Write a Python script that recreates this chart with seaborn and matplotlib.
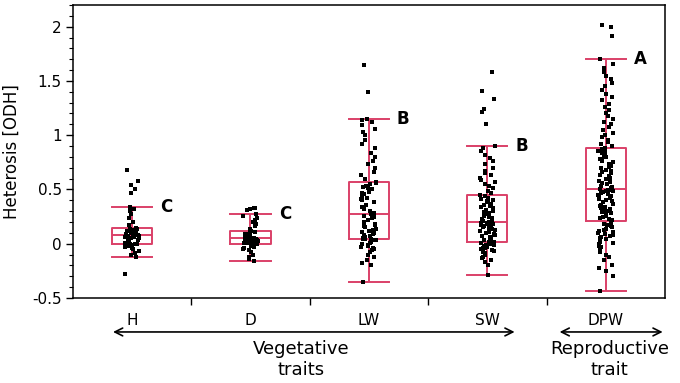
# -*- coding: utf-8 -*-
"""
Heterosis (ODH) per trait - box plot with individual points
"""

import numpy as np
import pandas as pd
import matplotlib
matplotlib.use('Agg')
import matplotlib.pyplot as plt
from matplotlib.ticker import MultipleLocator, FuncFormatter
import seaborn as sns

plt.rcParams['font.family'] = ['DejaVu Sans']
plt.rcParams['axes.unicode_minus'] = False

# data
traits = ['H', 'D', 'LW', 'SW', 'DPW']
letters = ['C', 'C', 'B', 'B', 'A']

odh_h = [-0.277, -0.12, -0.10, -0.09, -0.07, -0.05, -0.04, -0.03, -0.02, -0.01,
         0.0, 0.0, 0.0, 0.01, 0.02, 0.03, 0.04, 0.05, 0.055, 0.06,
         0.065, 0.07, 0.075, 0.08, 0.083, 0.09, 0.095, 0.10, 0.105, 0.11,
         0.115, 0.12, 0.125, 0.13, 0.135, 0.14, 0.145, 0.17, 0.20, 0.24,
         0.27, 0.30, 0.32, 0.335, 0.47, 0.50, 0.545, 0.575, 0.68]

odh_d = [-0.157, -0.14, -0.12, -0.10, -0.08, -0.06, -0.05, -0.04, -0.03, -0.02,
         -0.01, -0.005, 0.0, 0.005, 0.01, 0.015, 0.02, 0.025, 0.03, 0.035,
         0.04, 0.042, 0.045, 0.048, 0.05, 0.055, 0.06, 0.065, 0.07, 0.075,
         0.08, 0.085, 0.09, 0.10, 0.105, 0.11, 0.12, 0.14, 0.16, 0.18,
         0.20, 0.22, 0.24, 0.26, 0.27, 0.31, 0.32, 0.325, 0.33]

odh_lw = [-0.355, -0.20, -0.18, -0.15, -0.12, -0.10, -0.08, -0.06, -0.05, -0.04,
          -0.03, -0.02, -0.01, 0.0, 0.01, 0.02, 0.03, 0.035, 0.04, 0.042,
          0.045,
          0.05, 0.06, 0.07, 0.08, 0.09, 0.10, 0.11, 0.12, 0.13, 0.14,
          0.15, 0.16, 0.17, 0.18, 0.20, 0.22, 0.24, 0.25, 0.26,
          0.27,
          0.28, 0.30, 0.32, 0.34, 0.36, 0.38, 0.40, 0.41, 0.42, 0.44,
          0.46, 0.47, 0.48, 0.50, 0.51, 0.52, 0.53, 0.55, 0.56,
          0.565,
          0.60, 0.63, 0.66, 0.70, 0.73, 0.76, 0.80, 0.84, 0.88, 0.92,
          0.96, 1.00, 1.03, 1.06, 1.09, 1.12, 1.14, 1.15,
          1.395, 1.65]

odh_sw = [-0.285, -0.20, -0.17, -0.15, -0.13, -0.12, -0.10, -0.09, -0.08, -0.07,
          -0.06, -0.05, -0.04, -0.035, -0.03, -0.025, -0.02, -0.015, -0.01, -0.005,
          0.0, 0.005, 0.01, 0.012, 0.015,
          0.02,
          0.03, 0.04, 0.05, 0.06, 0.07, 0.08, 0.09, 0.10, 0.11, 0.12,
          0.13, 0.14, 0.145, 0.15, 0.155, 0.16, 0.165, 0.17, 0.175, 0.18,
          0.185, 0.19, 0.192, 0.195,
          0.197,
          0.20, 0.21, 0.22, 0.23, 0.24, 0.25, 0.26, 0.27, 0.28, 0.29,
          0.30, 0.31, 0.32, 0.33, 0.34, 0.35, 0.36, 0.37, 0.38, 0.39,
          0.40, 0.41, 0.42, 0.44,
          0.45,
          0.47, 0.49, 0.51, 0.53, 0.55, 0.57, 0.59, 0.61, 0.63, 0.65,
          0.67, 0.70, 0.73, 0.76, 0.79, 0.82, 0.85, 0.88, 0.905,
          1.107, 1.21, 1.24, 1.33, 1.41, 1.58]

odh_dpw = [-0.44, -0.30, -0.25, -0.22, -0.20, -0.15, -0.12, -0.10, -0.08, -0.06,
           -0.05, -0.03, -0.02, 0.0, 0.01, 0.02, 0.04, 0.05, 0.06, 0.07,
           0.08, 0.09, 0.10, 0.11, 0.12, 0.13, 0.14, 0.15, 0.16, 0.17,
           0.18, 0.20,
           0.21,
           0.22, 0.23, 0.24, 0.25, 0.26, 0.27, 0.28, 0.29, 0.30, 0.31,
           0.32, 0.33, 0.34, 0.35, 0.36, 0.37, 0.38, 0.39, 0.40, 0.41,
           0.42, 0.43, 0.44, 0.45, 0.46, 0.47, 0.48, 0.485, 0.49, 0.495,
           0.498,
           0.50,
           0.51, 0.52, 0.53, 0.55, 0.56, 0.57, 0.58, 0.60, 0.61, 0.62,
           0.63, 0.65, 0.66, 0.67, 0.68, 0.70, 0.71, 0.72, 0.73, 0.75,
           0.76, 0.77, 0.78, 0.80, 0.81, 0.82, 0.83, 0.84, 0.85, 0.86,
           0.87,
           0.88,
           0.90, 0.92, 0.94, 0.96, 0.98, 1.00, 1.02, 1.05, 1.08, 1.10,
           1.12, 1.15, 1.18, 1.20, 1.23, 1.26, 1.29, 1.32, 1.35, 1.38,
           1.42, 1.45, 1.48, 1.52, 1.55, 1.58, 1.62, 1.66, 1.70,
           1.91, 2.00, 2.02]

series = [odh_h, odh_d, odh_lw, odh_sw, odh_dpw]
df = pd.concat([pd.DataFrame({'trait': t, 'odh': v}) for t, v in zip(traits, series)],
               ignore_index=True)

PINK = '#DA4068'

fig = plt.figure(figsize=(6.8, 3.83), dpi=100)
ax = fig.add_axes([0.107, 0.222, 0.871, 0.765])

sns.boxplot(data=df, x='trait', y='odh', order=traits, width=0.34, capwidths=0.34,
            fill=False, color=PINK, linewidth=1.4, showfliers=False, whis=1.5, ax=ax)
np.random.seed(7)
sns.stripplot(data=df, x='trait', y='odh', order=traits, color='black', marker='s',
              size=3.3, linewidth=0, jitter=0.065, ax=ax, zorder=3)

# significance letters next to the upper whisker
for i, v in enumerate(series):
    q1, q3 = np.percentile(v, [25, 75])
    upper = max(x for x in v if x <= q3 + 1.5 * (q3 - q1))
    ax.text(i + 0.29, upper, letters[i], fontsize=12, fontweight='bold',
            ha='center', va='center')

ax.set_xlim(-0.5, 4.5)
ax.set_ylim(-0.5, 2.2)
ax.yaxis.set_major_locator(MultipleLocator(0.5))
ax.yaxis.set_minor_locator(MultipleLocator(0.1))
ax.yaxis.set_major_formatter(FuncFormatter(lambda v, p: f'{v:g}'))
ax.tick_params(axis='y', which='major', length=5, width=1, labelsize=11, pad=3)
ax.tick_params(axis='y', which='minor', length=3, width=0.8)

ax.set_xticks(range(len(traits)))
ax.set_xticklabels(traits, fontsize=11)
ax.set_xticks([0.5, 1.5, 2.5, 3.5], minor=True)
ax.tick_params(axis='x', which='major', length=0, pad=11)
ax.tick_params(axis='x', which='minor', length=5, width=1)

ax.set_xlabel('')
ax.set_ylabel('Heterosis [ODH]', fontsize=12)
ax.yaxis.set_label_coords(-0.088, 0.5)
for s in ax.spines.values():
    s.set_linewidth(1.1)

# group arrows below the axis
arrow = dict(arrowstyle='<->', lw=1.2, color='black', mutation_scale=14,
             shrinkA=0, shrinkB=0)
ax.annotate('', xy=(-0.16, -0.116), xytext=(3.23, -0.116),
            xycoords=('data', 'axes fraction'), textcoords=('data', 'axes fraction'),
            arrowprops=arrow, annotation_clip=False)
ax.annotate('', xy=(3.61, -0.116), xytext=(4.48, -0.116),
            xycoords=('data', 'axes fraction'), textcoords=('data', 'axes fraction'),
            arrowprops=arrow, annotation_clip=False)
ax.text(1.43, -0.21, 'Vegetative\ntraits', fontsize=13, ha='center', va='center',
        transform=ax.get_xaxis_transform(), linespacing=1.15)
ax.text(4.03, -0.21, 'Reproductive\ntrait', fontsize=13, ha='center', va='center',
        transform=ax.get_xaxis_transform(), linespacing=1.15)

fig.savefig('out.png', dpi=100)
plt.close(fig)
